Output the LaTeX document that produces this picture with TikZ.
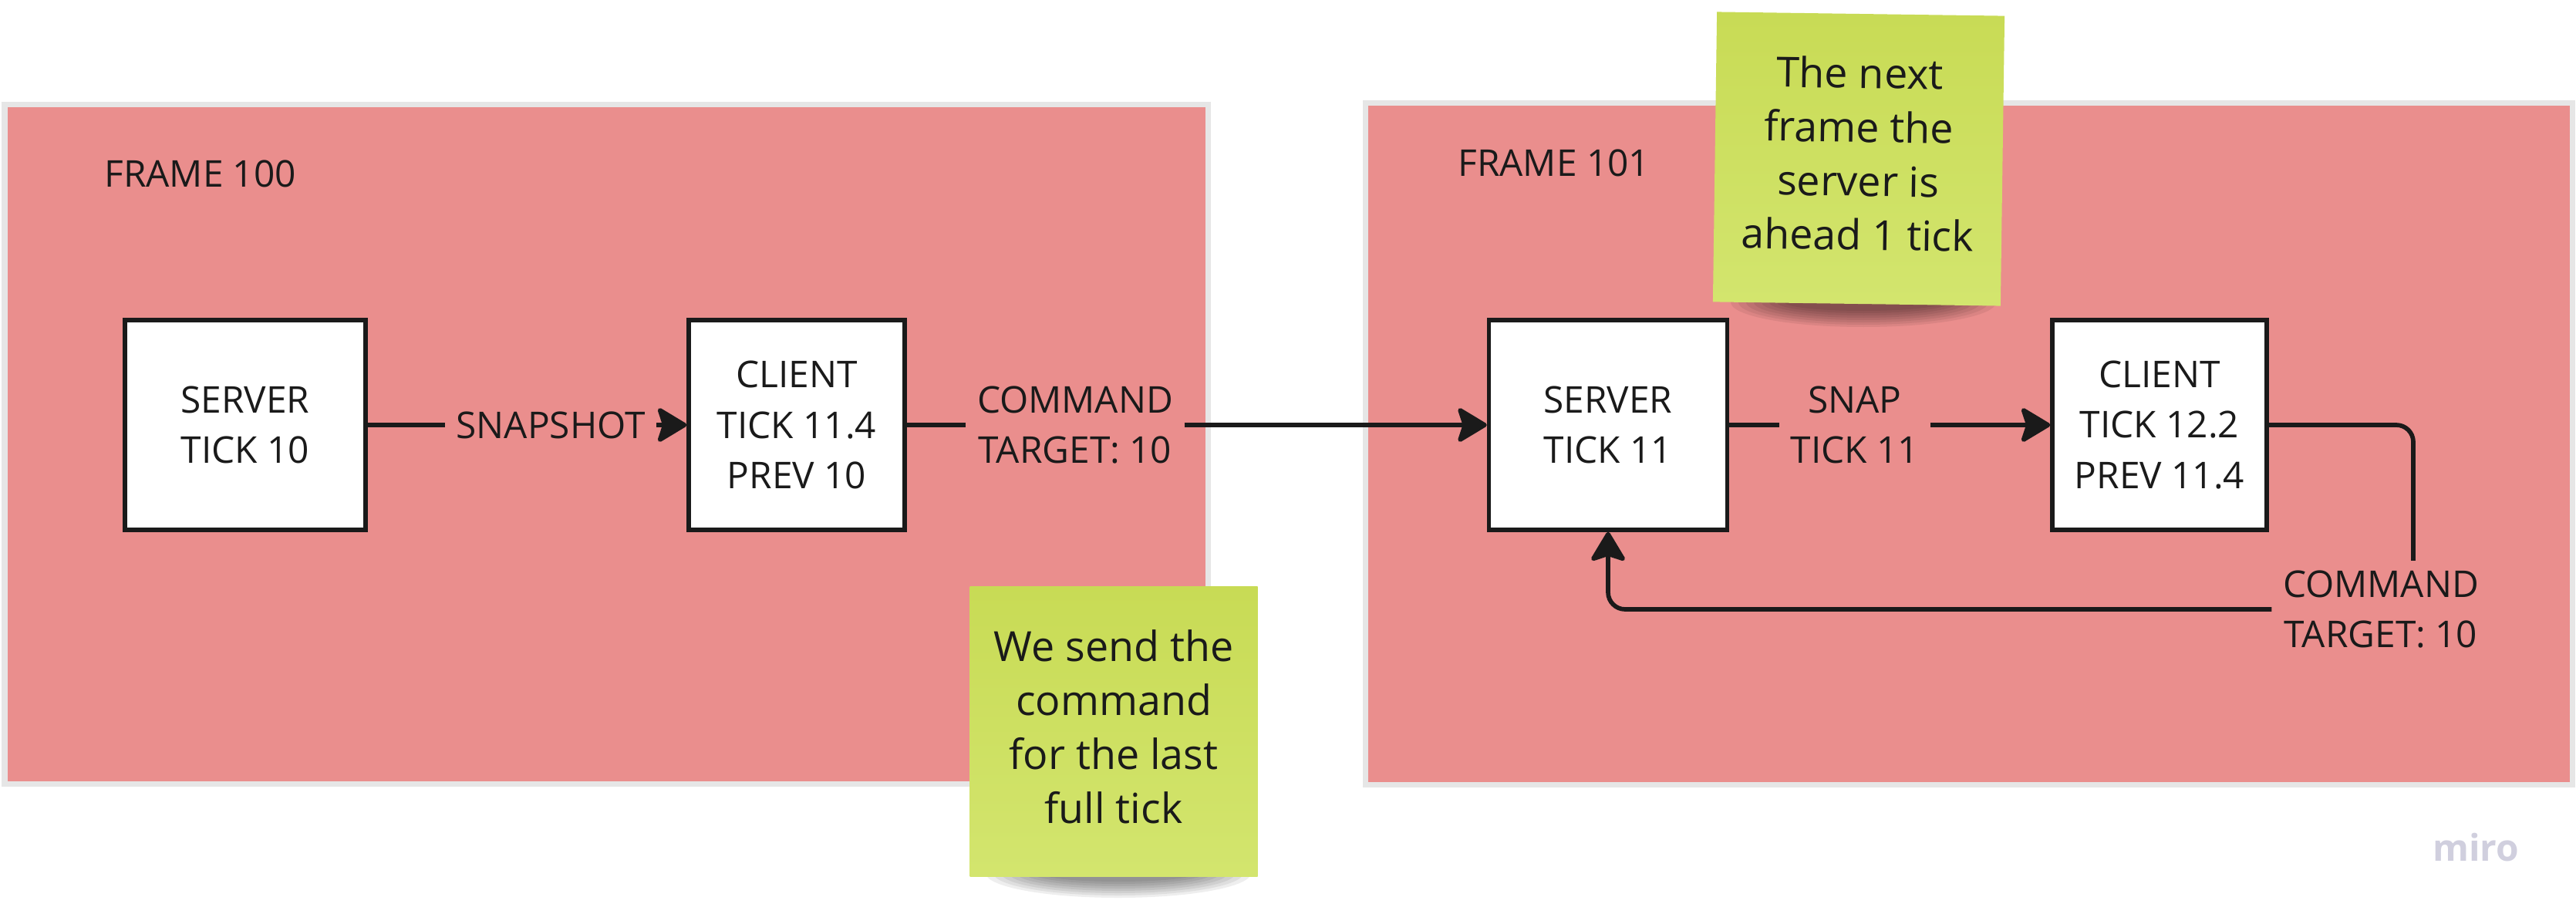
\documentclass[tikz,border=0pt]{standalone}
\usepackage{fontspec}
\setmainfont{Open Sans}
\usepackage{tikz}
\usetikzlibrary{arrows.meta}

\definecolor{framered}{HTML}{EA8E8D}
\definecolor{frameedge}{HTML}{E6E6E6}
\definecolor{ink}{HTML}{1A1A1A}
\definecolor{stickytop}{HTML}{C8DB55}
\definecolor{stickybot}{HTML}{D3E56E}
\definecolor{logogray}{HTML}{D0CFDE}

\tikzset{
  redframe/.style={fill=framered, draw=frameedge, line width=0.07cm},
  txt/.style={text=ink, align=center, font=\fontsize{13.6}{18.7}\selectfont},
  tickbox/.style={txt, draw=ink, fill=white, line width=0.055cm, minimum height=2.72cm},
  lbl/.style={txt, inner xsep=0.14cm, inner ysep=0.12cm},
  conn/.style={draw=ink, line width=0.057cm},
  arr/.style={conn, -{Stealth[length=0.42cm, width=0.50cm, inset=0.08cm, round]}},
  sticky/.style={minimum width=3.73cm, minimum height=3.76cm, inner sep=0pt,
    top color=stickytop, bottom color=stickybot},
  stickytext/.style={text=ink, align=center, font=\fontsize{15.3}{19.9}\selectfont},
  shade/.style={fill=black, opacity=0.065},
}

\begin{document}
\begin{tikzpicture}
    \useasboundingbox (0,0) rectangle (33.40,11.97);
    % Frames
    \draw[redframe] (0.06,1.81) rectangle (15.66,10.61);
    \draw[redframe] (17.70,1.80) rectangle (33.35,10.63);
    \node[txt, anchor=west] (frame100) at (1.23,9.72) {FRAME 100};
    \node[txt, anchor=west] (frame101) at (18.78,9.86) {FRAME 101};

    % Frame 100
    \node[tickbox, minimum width=3.12cm] (srv1) at (3.18,6.46) {SERVER\\TICK 10};
    \node[tickbox, minimum width=2.80cm] (cli1) at (10.33,6.46) {CLIENT\\TICK 11.4\\PREV 10};
    \node[lbl] (snap1) at (7.14,6.46) {SNAPSHOT};
    \node[lbl] (cmd1) at (13.94,6.46) {COMMAND\\TARGET: 10};
    \draw[conn] (srv1) -- (snap1);
    \draw[arr] (snap1) -- (cli1);
    \draw[conn] (cli1) -- (cmd1);

    % Frame 101
    \node[tickbox, minimum width=3.09cm] (srv2) at (20.85,6.46) {SERVER\\TICK 11};
    \node[tickbox, minimum width=2.78cm] (cli2) at (28.00,6.46) {CLIENT\\TICK 12.2\\PREV 11.4};
    \node[lbl] (snap2) at (24.05,6.46) {SNAP\\TICK 11};
    \node[lbl] (cmd2) at (30.87,4.07) {COMMAND\\TARGET: 10};
    \coordinate (turn) at (31.29,6.46);
    \draw[arr] (cmd1) -- (srv2);
    \draw[conn] (srv2) -- (snap2);
    \draw[arr] (snap2) -- (cli2);
    \draw[conn, rounded corners=0.22cm] (cli2.east) -| (cmd2.north -| turn);
    \draw[arr, rounded corners=0.22cm] (cmd2.west) -| (srv2.south);

    % Sticky notes
    \coordinate (foot1) at (24.16,8.05);
    \foreach \k in {0,...,7}
        \fill[shade] (foot1) ellipse ({1.72-0.10*\k} and {0.32-0.03*\k});
    \node[sticky, rotate=-0.8] (note1) at (24.10,9.91) {};
    \node[stickytext, rotate=-0.8] (note1txt) at ([yshift=0.07cm]note1.center) {The next\\frame the\\server is\\ahead 1 tick};
    \coordinate (foot2) at (14.50,0.65);
    \foreach \k in {0,...,7}
        \fill[shade] (foot2) ellipse ({1.72-0.10*\k} and {0.32-0.03*\k});
    \node[sticky] (note2) at (14.44,2.49) {};
    \node[stickytext] (note2txt) at ([yshift=0.06cm]note2.center) {We send the\\command\\for the last\\full tick};

    \node[text=logogray, font=\bfseries\fontsize{13.6}{16}\selectfont] (logo) at (32.10,0.98) {miro};
\end{tikzpicture}
\end{document}
